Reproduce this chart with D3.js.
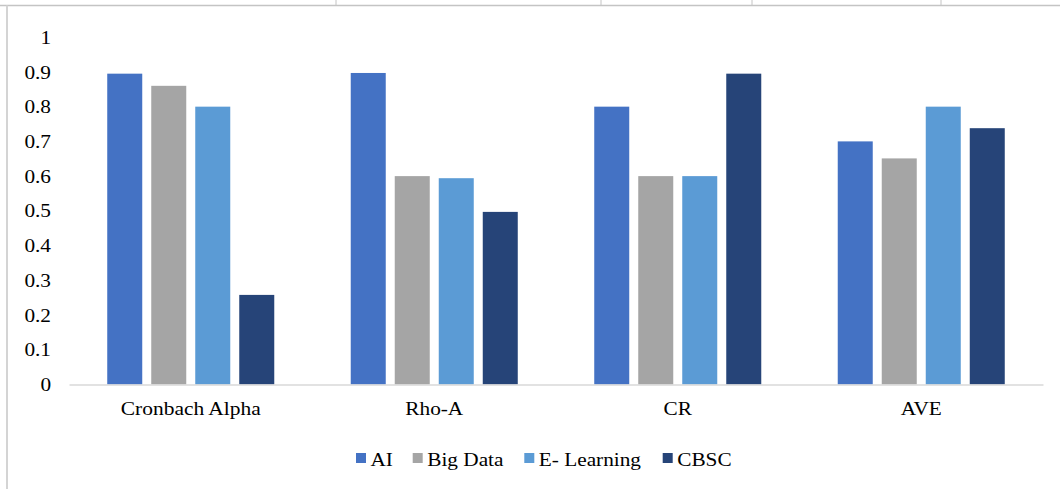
<!DOCTYPE html>
<html>
<head>
<meta charset="utf-8">
<script src="https://cdn.jsdelivr.net/npm/d3@7"></script>
<style>
  html, body { margin: 0; padding: 0; background: #fff; }
  svg { display: block; }
</style>
</head>
<body>
<svg id="chart" width="1060" height="489"></svg>
<script>
// Measures and constructs
const categories = ["Cronbach Alpha", "Rho-A", "CR", "AVE"];
const seriesNames = ["AI", "Big Data", "E- Learning", "CBSC"];
const aiValues       = [0.895, 0.897, 0.800, 0.700];
const bigDataValues  = [0.860, 0.600, 0.600, 0.651];
const eLearnValues   = [0.800, 0.594, 0.600, 0.800];
const cbscValues     = [0.258, 0.497, 0.895, 0.738];
const yTicks = [0, 0.1, 0.2, 0.3, 0.4, 0.5, 0.6, 0.7, 0.8, 0.9, 1];
const yTickLabels = ["0", "0.1", "0.2", "0.3", "0.4", "0.5", "0.6", "0.7", "0.8", "0.9", "1"];
const colors = ["#4472C4", "#A5A5A5", "#5B9BD5", "#264478"];

const FONT = "Liberation Serif, serif";
const FONT_SIZE = 19;
const STRETCH = 1.12; // text is drawn slightly wide

const ctx = document.createElement("canvas").getContext("2d");

const seriesValues = [aiValues, bigDataValues, eLearnValues, cbscValues];
const rows = categories.map((c, i) => ({
  category: c,
  values: seriesNames.map((s, j) => ({ series: s, value: seriesValues[j][i], color: colors[j] }))
}));

const svg = d3.select("#chart");
const plot = { left: 69, right: 1043, top: 37.2, bottom: 384.5 };

function styleText(sel) {
  sel.attr("font-family", FONT).attr("font-size", FONT_SIZE).attr("fill", "#000")
    .each(function () {
      ctx.font = `${FONT_SIZE}px "Liberation Serif"`;
      const w = ctx.measureText(this.textContent).width;
      d3.select(this).attr("textLength", w * STRETCH).attr("lengthAdjust", "spacingAndGlyphs");
    });
}

// surrounding table frame
svg.append("line").attr("x1", 0).attr("x2", 1060).attr("y1", 5.5).attr("y2", 5.5)
  .attr("stroke", "#c4c4c4").attr("stroke-width", 1.5);
[336, 601, 752, 941].forEach(x => {
  svg.append("line").attr("x1", x).attr("x2", x).attr("y1", 0).attr("y2", 5.5)
    .attr("stroke", "#c4c4c4").attr("stroke-width", 1);
});
svg.append("line").attr("x1", 7).attr("x2", 7).attr("y1", 5.5).attr("y2", 489)
  .attr("stroke", "#d4d4d4").attr("stroke-width", 2);

const x0 = d3.scaleBand().domain(categories).range([plot.left, plot.right]).paddingInner(0).paddingOuter(0);
const x1 = d3.scaleBand().domain(seriesNames).range([0, x0.bandwidth()]).paddingInner(0.2045).paddingOuter(0.869);
const y = d3.scaleLinear().domain([0, 1]).range([plot.bottom, plot.top]);

// value axis labels
const yAxis = d3.axisLeft(y).tickValues(yTicks).tickFormat((d, i) => yTickLabels[i]).tickSize(0).tickPadding(0);
const yg = svg.append("g").attr("transform", `translate(51,0)`).call(yAxis)
  .attr("font-family", FONT).attr("font-size", FONT_SIZE);
yg.select(".domain").remove();
yg.selectAll("text").call(styleText);

// bars
const groups = svg.append("g").selectAll("g").data(rows).join("g")
  .attr("transform", d => `translate(${x0(d.category)},0)`);
groups.selectAll("rect").data(d => d.values).join("rect")
  .attr("x", d => x1(d.series))
  .attr("width", x1.bandwidth())
  .attr("y", d => y(d.value))
  .attr("height", d => y(0) - y(d.value))
  .attr("fill", d => d.color);

// category axis
const xAxis = d3.axisBottom(x0).tickSize(0).tickPadding(0);
const xg = svg.append("g").attr("transform", `translate(0,${plot.bottom})`).call(xAxis)
  .attr("font-family", FONT).attr("font-size", FONT_SIZE);
xg.select(".domain").attr("stroke", "#d9d9d9").attr("stroke-width", 1.5);
xg.selectAll("text").attr("dy", null).attr("y", 30).call(styleText);

// legend
const legendX = [356, 412.7, 524.3, 662.7];
const legend = svg.append("g").selectAll("g").data(seriesNames).join("g")
  .attr("transform", (d, i) => `translate(${legendX[i]},453)`);
legend.append("rect").attr("width", 10).attr("height", 10).attr("fill", (d, i) => colors[i]);
legend.append("text").attr("x", 14.5).attr("y", 13).text(d => d).call(styleText);
</script>
</body>
</html>
